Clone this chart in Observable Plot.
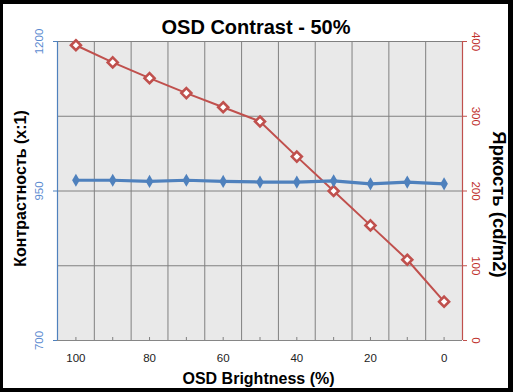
<!DOCTYPE html>
<html>
<head>
<meta charset="utf-8">
<script src="https://cdn.jsdelivr.net/npm/d3@7"></script>
<script src="https://cdn.jsdelivr.net/npm/@observablehq/plot@0.6"></script>
<style>
  html, body { margin: 0; padding: 0; background: #000; }
  #wrap { position: relative; width: 513px; height: 392px; background: #000; overflow: hidden; }
  #inner { position: absolute; left: 3px; top: 4px; width: 505px; height: 384px; background: #fff; }
  #chart { position: absolute; left: 0; top: 0; }
</style>
</head>
<body>
<div id="wrap"><div id="inner"></div><div id="chart"></div></div>
<script>
// ---- data ----
const osdBrightness = [100, 90, 80, 70, 60, 50, 40, 30, 20, 10, 0];
const contrast      = [968, 968, 966, 968, 966, 965, 965, 967, 962, 965, 962];
const luminance     = [395, 372, 351, 331, 312, 293, 246, 200, 154, 108, 52];
const xTickLabels   = [100, 80, 60, 40, 20, 0];
const contrastTicks = [700, 950, 1200];
const luminanceTicks = [0, 100, 200, 300, 400];
const titleText = "OSD Contrast - 50%";
const xTitle = "OSD Brightness (%)";
const leftTitle = "Контрастность (x:1)";
const rightTitle = "Яркость (cd/m2)";

// ---- helpers ----
const blue = "#4F81BD";
const red = "#C0504D";
const toY = b => 700 + b * 1.25;   // secondary axis (0–400) onto primary (700–1200)
const rows = osdBrightness.map((b, i) => ({b, contrast: contrast[i], lum: luminance[i]}));
const boundaries = [...osdBrightness.map(v => v + 5), osdBrightness[osdBrightness.length - 1] - 5];
const font = "Liberation Sans, Arial, sans-serif";

const svg = Plot.plot({
  width: 513,
  height: 392,
  marginLeft: 57,
  marginRight: 51,
  marginTop: 41,
  marginBottom: 52,
  style: {background: "transparent", fontFamily: font, overflow: "visible"},
  x: {type: "linear", domain: [105, -5], axis: null, label: null},
  y: {type: "linear", domain: [700, 1200], axis: null, label: null},
  marks: [
    Plot.frame({fill: "url(#hatch)", stroke: null}),
    Plot.ruleX(boundaries, {x: d => d, stroke: "#808080", strokeWidth: 1}),
    Plot.ruleY(luminanceTicks, {y: toY, stroke: "#808080", strokeWidth: 1}),
    // x axis inner ticks
    Plot.axisX({ticks: osdBrightness, tickSize: 3, dy: -3, tickFormat: () => "", label: null, stroke: "#808080"}),
    Plot.ruleY([700], {stroke: "#868686", strokeWidth: 1}),
    // left axis
    Plot.axisY({anchor: "left", ticks: contrastTicks, tickSize: 4, tickFormat: () => "", label: null, stroke: blue}),
    Plot.ruleX([105], {stroke: blue, strokeWidth: 1.2}),
    // right axis
    Plot.axisY({anchor: "right", ticks: luminanceTicks.map(toY), tickSize: 4, tickFormat: () => "", label: null, stroke: red}),
    Plot.ruleX([-5], {stroke: red, strokeWidth: 1.2}),
    // tick labels
    Plot.text(xTickLabels, {x: d => d, text: d => String(d), frameAnchor: "bottom", dy: 18, textAnchor: "middle", lineAnchor: "middle", fontSize: 11.5, fill: "#222"}),
    Plot.text(contrastTicks, {y: d => d, text: d => String(d), frameAnchor: "left", dx: -18, rotate: -90, textAnchor: "middle", lineAnchor: "middle", fontSize: 11.5, fill: "#5b8ad0"}),
    Plot.text(luminanceTicks, {y: toY, text: d => String(d), frameAnchor: "right", dx: 13.5, rotate: 90, textAnchor: "middle", lineAnchor: "middle", fontSize: 11.5, fill: "#c0302c"}),
    // series
    Plot.line(rows, {x: "b", y: d => toY(d.lum), stroke: red, strokeWidth: 2}),
    Plot.dot(rows, {x: "b", y: d => toY(d.lum), symbol: "diamond2", r: 4.5, stroke: red, strokeWidth: 2.6, fill: "#fff"}),
    Plot.line(rows, {x: "b", y: "contrast", stroke: blue, strokeWidth: 3.2}),
    Plot.dot(rows, {x: "b", y: "contrast", symbol: "diamond", r: 4, fill: blue, stroke: null}),
    // titles
    Plot.text([titleText], {text: d => d, frameAnchor: "top", dx: -4, dy: -8, textAnchor: "middle", lineAnchor: "bottom", fontSize: 20, fontWeight: "bold", fill: "#000"}),
    Plot.text([xTitle], {text: d => d, frameAnchor: "bottom", dx: -1.5, dy: 43, textAnchor: "middle", lineAnchor: "bottom", fontSize: 16, fontWeight: "bold", fill: "#000"}),
    Plot.text([leftTitle], {text: d => d, frameAnchor: "left", dx: -37, dy: -2.5, rotate: -90, textAnchor: "middle", lineAnchor: "middle", fontSize: 16, fontWeight: "bold", fill: "#000"}),
    Plot.text([rightTitle], {text: d => d, frameAnchor: "right", dx: 36, dy: 13.5, rotate: 90, textAnchor: "middle", lineAnchor: "middle", fontSize: 18.5, fontWeight: "bold", fill: "#000"})
  ]
});

// hatch pattern
const defs = d3.select(svg).insert("defs", ":first-child");
const pat = defs.append("pattern").attr("id", "hatch").attr("patternUnits", "userSpaceOnUse")
  .attr("width", 2).attr("height", 4);
pat.append("rect").attr("width", 2).attr("height", 4).attr("fill", "#fff");
pat.append("rect").attr("width", 1).attr("height", 4).attr("fill", "#d2d2d2");

document.getElementById("chart").appendChild(svg);
</script>
</body>
</html>
